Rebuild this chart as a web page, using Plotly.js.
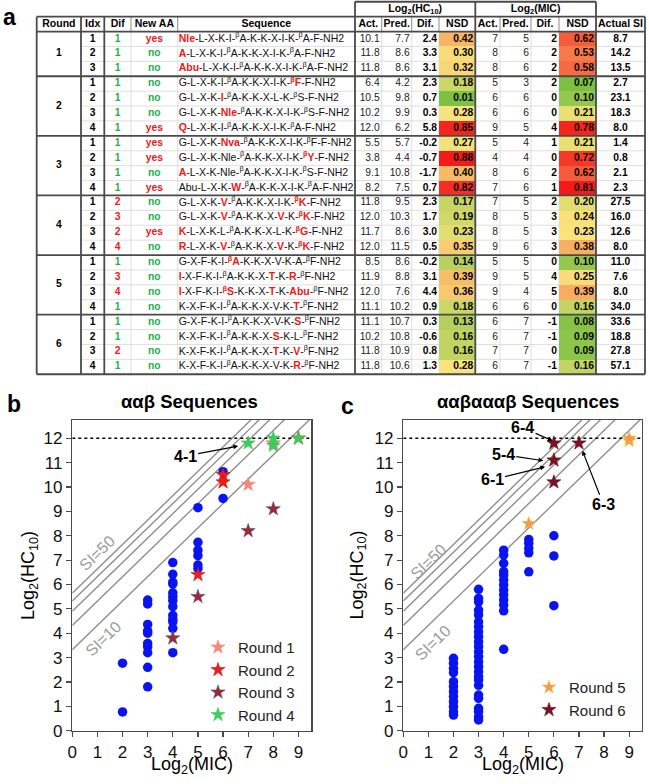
<!DOCTYPE html>
<html><head><meta charset="utf-8">
<script src="https://cdn.plot.ly/plotly-3.0.1.min.js"></script>
<style>html,body{margin:0;padding:0;background:#fff}#chart{width:649px;height:784px}</style>
</head><body><div id="chart"></div>
<script>
// ---------------- table data ----------------
const rounds   = [1,1,1, 2,2,2,2, 3,3,3,3, 4,4,4,4, 5,5,5,5, 6,6,6,6];
const idx      = [1,2,3, 1,2,3,4, 1,2,3,4, 1,2,3,4, 1,2,3,4, 1,2,3,4];
const difCount = [1,1,1, 1,1,1,1, 1,1,1,1, 2,3,2,4, 1,3,4,1, 1,1,2,1];
const newAA    = ['yes','no','no', 'no','no','no','yes', 'yes','yes','no','yes', 'no','no','yes','no', 'no','no','no','no', 'no','no','no','no'];
// [..] = new residue (red, bold), ^ = beta superscript
const sequences = [
  '[Nle]-L-X-K-I-^A-K-K-X-I-K-^A-F-NH2',
  '[A]-L-X-K-I-^A-K-K-X-I-K-^A-F-NH2',
  '[Abu]-L-X-K-I-^A-K-K-X-I-K-^A-F-NH2',
  'G-L-X-K-I-^A-K-K-X-I-K-[^F]-F-NH2',
  'G-L-X-K-[I]-^A-K-K-X-L-K-^S-F-NH2',
  'G-L-X-K-[Nle]-^A-K-K-X-I-K-^S-F-NH2',
  '[Q]-L-X-K-I-^A-K-K-X-I-K-^A-F-NH2',
  'G-L-X-K-[Nva]-^A-K-K-X-I-K-^F-F-NH2',
  'G-L-X-K-Nle-^A-K-K-X-I-K-[^Y]-F-NH2',
  '[A]-L-X-K-Nle-^A-K-K-X-I-K-^S-F-NH2',
  'Abu-L-X-K-[W]-^A-K-K-X-I-K-^A-F-NH2',
  'G-L-X-K-[V]-^A-K-K-X-I-K-[^K]-F-NH2',
  'G-L-X-K-[V]-^A-K-K-X-[V]-K-[^K]-F-NH2',
  '[K]-L-X-K-L-^A-K-K-X-L-K-[^G]-F-NH2',
  '[R]-L-X-K-[V]-^A-K-K-X-[V]-K-[^K]-F-NH2',
  'G-X-F-K-I-[^A]-K-K-X-V-K-A-^F-NH2',
  '[I]-X-F-K-I-^A-K-K-X-[T]-K-[R]-^F-NH2',
  '[I]-X-F-K-I-[^S]-K-K-X-[T]-K-[Abu]-^F-NH2',
  'K-X-F-K-I-^A-K-K-X-V-K-[T]-^F-NH2',
  'G-X-F-K-I-^A-K-K-X-V-K-[S]-^F-NH2',
  'K-X-F-K-I-^A-K-K-X-[S]-K-L-^F-NH2',
  'K-X-F-K-I-^A-K-K-X-[T]-K-[V]-^F-NH2',
  'K-X-F-K-I-^A-K-K-X-V-K-[R]-^F-NH2'
];
const hcAct  = [10.1,11.8,11.8, 6.4,10.5,10.2,12.0, 5.5,3.8,9.1,8.2, 11.8,12.0,11.7,12.0, 8.5,11.9,12.0,11.1, 11.1,10.2,11.8,11.8];
const hcPred = [7.7,8.6,8.6, 4.2,9.8,9.9,6.2, 5.7,4.4,10.8,7.5, 9.5,10.3,8.6,11.5, 8.6,8.8,7.6,10.2, 10.7,10.8,10.9,10.6];
const hcDif  = [2.4,3.3,3.1, 2.3,0.7,0.3,5.8, -0.2,-0.7,-1.7,0.7, 2.3,1.7,3.0,0.5, -0.2,3.1,4.4,0.9, 0.3,-0.6,0.8,1.3];
const hcNSD  = [0.42,0.30,0.32, 0.18,0.01,0.28,0.85, 0.27,0.88,0.40,0.82, 0.17,0.19,0.23,0.35, 0.14,0.39,0.36,0.18, 0.13,0.16,0.16,0.28];
const micAct  = [7,8,8, 5,6,6,9, 5,4,8,7, 7,8,8,9, 5,9,9,6, 6,6,7,6];
const micPred = [5,6,6, 3,6,6,5, 4,4,6,6, 5,5,5,6, 5,5,4,6, 7,7,7,7];
const micDif  = [2,2,2, 2,0,0,4, 1,0,2,1, 2,3,3,3, 0,4,5,0, -1,-1,0,-1];
const micNSD  = [0.62,0.53,0.58, 0.07,0.10,0.21,0.78, 0.21,0.72,0.62,0.81, 0.20,0.24,0.23,0.38, 0.10,0.25,0.39,0.16, 0.08,0.09,0.09,0.16];
const actualSI = [8.7,14.2,13.5, 2.7,23.1,18.3,8.0, 1.4,0.8,2.1,2.3, 27.5,16.0,12.6,8.0, 11.0,7.6,8.0,34.0, 33.6,18.8,27.8,57.1];
const headerLabels = ['Round','Idx','Dif','New AA','Sequence','Act.','Pred.','Dif.','NSD','Act.','Pred.','Dif.','NSD','Actual SI'];

// ---------------- scatter data (training sequences) ----------------
const aabMic = [2,2, 3,3,3,3,3,3,3,3,3,3, 4,4,4,4,4,4,4,4,4,4,4,4,4, 5,5,5,5,5,5, 6,6];
const aabHc  = [2.77,0.77, 5.36,5.20,4.36,4.10,4.00,3.58,3.45,3.20,2.60,1.80,
                6.90,6.42,6.10,6.02,5.66,5.50,5.34,5.09,4.73,4.57,4.47,4.20,3.20,
                9.15,7.73,7.41,7.18,6.80,6.66, 10.63,9.53];
const aabaaabMic = [2,2,2,2,2,2,2,2,2,2,2,2,
                    3,3,3,3,3,3,3,3,3,3,3,3,3,3,3,3,3,3,3,3,3,3,3,3,3,
                    4,4,4,4,4,4,4,4,4,4,4,4,4,
                    5,5,5,5,5, 6,6,6];
const aabaaabHc  = [2.97,2.77,2.56,2.38,2.01,1.81,1.60,1.40,1.19,0.99,0.78,0.64,
                    5.80,5.43,5.29,4.95,4.75,4.47,4.27,4.06,3.86,3.65,3.45,3.24,3.04,2.83,2.63,2.42,2.22,2.08,1.86,1.46,1.33,0.92,0.78,0.57,0.44,
                    7.41,7.21,6.87,6.53,6.39,6.18,5.98,5.77,5.57,5.36,5.16,4.92,3.34,
                    7.85,7.69,7.48,7.30,6.52, 8.00,7.17,5.13];
const siLevels = [10,20,30,40,50];
const hcCap = 12;
const xTicks = [0,1,2,3,4,5,6,7,8,9];
const yTicks = [0,1,2,3,4,5,6,7,8,9,10,11,12];

// ---------------- styling ----------------
const FONT = 'Arial, "Liberation Sans", Helvetica, sans-serif';
const RED = '#EE1818', GREEN = '#22B14C';
const roundColors = {1:'#F8877A', 2:'#EE1C1C', 3:'#A0282E', 4:'#3DCB5C', 5:'#F79450', 6:'#7D1227'};
const roundLines  = {1:'#F8877A', 2:'#C81010', 3:'#4A4A8A', 4:'#3DCB5C', 5:'#EED040', 6:'#5A0A18'};

const W = 649, H = 784;
const colBounds = [36.7, 81, 104.3, 131, 177.7, 355, 381.7, 411.7, 439, 475.3, 500, 531, 559, 596, 645];
const thickCols = [0,1,2,5,9,13,14];
const ctr = i => (colBounds[i]+colBounds[i+1])/2;
const rgt = i => colBounds[i+1]-2;
const rowPx0 = 39, rowPx = 14.9, tableBottomPx = 380;

const traces = [];
const shapes = [];
const annotations = [];

// ---------------- table ----------------
const nRows = rounds.length;
const rowIdx = rounds.map((_, i) => i);
function fmtSeq(s) {
  return s.replace(/\[([^\]]+)\]/g, '<span style="color:' + RED + '"><b>$1</b></span>')
          .replace(/\^/g, '<sup>β</sup>');
}
function textCol(x, texts, pos, opts) {
  opts = opts || {};
  return {type:'scatter', mode:'text', xaxis:'x3', yaxis:'y3',
    x: texts.map(() => x), y: opts.y || texts.map((_, i) => i),
    text: texts, textposition: pos, cliponaxis:false,
    textfont: {family: FONT, size: opts.size || 10.3, color: opts.color || '#000'},
    hoverinfo:'skip', showlegend:false};
}
function nsdHeat(vals, col) {
  const s = vals.slice().sort((a, b) => a - b);
  const mn = s[0], mx = s[s.length-1], med = s[Math.floor(s.length/2)];
  const f = (med - mn) / (mx - mn);
  return {type:'heatmap', xaxis:'x3', yaxis:'y3', z: vals.map(v => [v]),
    x0: ctr(col), dx: colBounds[col+1]-colBounds[col], y0: 0, dy: 1,
    zmin: mn, zmax: mx, showscale:false, hoverinfo:'skip',
    colorscale: [[0,'#7DC142'],[f,'#F8E37C'],[1,'#F41A1A']]};
}
traces.push(nsdHeat(hcNSD, 8));
traces.push(nsdHeat(micNSD, 12));

// round labels (merged cells)
const groups = [...new Set(rounds)];
const groupY = groups.map(g => { const r = rowIdx.filter(i => rounds[i] === g); return (r[0] + r[r.length-1]) / 2; });
traces.push(textCol(ctr(0), groups.map(g => '<b>' + g + '</b>'), 'middle center', {y: groupY}));
traces.push(textCol(ctr(1), idx.map(v => '<b>' + v + '</b>'), 'middle center'));
traces.push(textCol(ctr(2), difCount.map(v => '<b>' + v + '</b>'), 'middle center', {color: difCount.map(v => v === 1 ? GREEN : RED)}));
traces.push(textCol(ctr(3), newAA.map(v => '<b>' + v + '</b>'), 'middle center', {color: newAA.map(v => v === 'yes' ? RED : GREEN)}));
traces.push(textCol(colBounds[4] + 1, sequences.map(fmtSeq), 'middle right', {color:'#111', size:10.5}));
traces.push(textCol(rgt(5), hcAct.map(v => v.toFixed(1)), 'middle left', {color:'#222'}));
traces.push(textCol(rgt(6), hcPred.map(v => v.toFixed(1)), 'middle left', {color:'#222'}));
traces.push(textCol(rgt(7), hcDif.map(v => '<b>' + v.toFixed(1) + '</b>'), 'middle left'));
traces.push(textCol(rgt(8), hcNSD.map(v => '<b>' + v.toFixed(2) + '</b>'), 'middle left'));
traces.push(textCol(rgt(9), micAct.map(v => String(v)), 'middle left', {color:'#222'}));
traces.push(textCol(rgt(10), micPred.map(v => String(v)), 'middle left', {color:'#222'}));
traces.push(textCol(rgt(11), micDif.map(v => '<b>' + v + '</b>'), 'middle left'));
traces.push(textCol(rgt(12), micNSD.map(v => '<b>' + v.toFixed(2) + '</b>'), 'middle left'));
traces.push(textCol(ctr(13), actualSI.map(v => '<b>' + v.toFixed(1) + '</b>'), 'middle center'));
// headers
{
  const hx = headerLabels.map((_, i) => ctr(i));
  traces.push({type:'scatter', mode:'text', xaxis:'x3', yaxis:'y3', x: hx, y: hx.map(() => -1),
    text: headerLabels.map(t => '<b>' + t + '</b>'), textposition:'middle center', cliponaxis:false,
    textfont:{family:FONT, size:10.5, color:'#000'}, hoverinfo:'skip', showlegend:false});
  traces.push({type:'scatter', mode:'text', xaxis:'x3', yaxis:'y3',
    x: [(colBounds[5]+colBounds[9])/2, (colBounds[9]+colBounds[13])/2], y: [-2, -2],
    text: ['<b>Log<sub>2</sub>(HC<sub>10</sub>)</b>', '<b>Log<sub>2</sub>(MIC)</b>'],
    textposition:'middle center', cliponaxis:false,
    textfont:{family:FONT, size:10.5, color:'#000'}, hoverinfo:'skip', showlegend:false});
}
// table lines
const THICK = {width:1.8, color:'#4a4a4a'}, THIN = {width:0.8, color:'#d6d6d6'}, HDR = {width:1, color:'#8a8a8a'};
function hline(y, x0, x1, line, layer) { shapes.push({type:'line', xref:'x3', yref:'y3', x0:x0, x1:x1, y0:y, y1:y, line:line, layer:layer || 'above'}); }
function vline(x, y0, y1, line, layer) { shapes.push({type:'line', xref:'x3', yref:'y3', x0:x, x1:x, y0:y0, y1:y1, line:line, layer:layer || 'above'}); }
const xL = colBounds[0], xR = colBounds[colBounds.length-1];
for (let i = 0; i < nRows - 1; i++) {
  if (rounds[i] === rounds[i+1]) hline(i + 0.5, colBounds[1], xR, THIN, 'below');
}
colBounds.forEach((x, i) => {
  if (!thickCols.includes(i)) { vline(x, -0.5, nRows - 0.5, THIN, 'below'); vline(x, -1.5, -0.5, HDR); }
});
for (let i = 0; i < nRows - 1; i++) {
  if (rounds[i] !== rounds[i+1]) hline(i + 0.5, xL, xR, THICK);
}
hline(-2.5, colBounds[5], colBounds[13], THICK);
hline(-1.5, xL, xR, THICK);
hline(-0.5, xL, xR, THICK);
hline(nRows - 0.5, xL, xR, THICK);
thickCols.forEach(i => vline(colBounds[i], -1.5, nRows - 0.5, THICK));
[5, 9, 13].forEach(i => vline(colBounds[i], -2.5, -1.5, THICK));

// ---------------- scatter plots ----------------
function addPanel(xa, ya, mic, hc, roundList, legendId) {
  siLevels.forEach(si => {
    const b = Math.log2(si);
    traces.push({type:'scatter', mode:'lines', xaxis:xa, yaxis:ya, x:[0, 9.5], y:[b, 9.5 + b],
      line:{color:'#8e8e8e', width:1.4}, hoverinfo:'skip', showlegend:false});
  });
  traces.push({type:'scatter', mode:'lines', xaxis:xa, yaxis:ya, x:[0, 9.5], y:[hcCap, hcCap],
    line:{color:'#000', width:1.4, dash:'dot'}, hoverinfo:'skip', showlegend:false});
  traces.push({type:'scatter', mode:'markers', xaxis:xa, yaxis:ya, x: mic, y: hc,
    marker:{color:'#0A14F0', size:9.5, line:{width:0}}, hoverinfo:'skip', showlegend:false});
  roundList.forEach(r => {
    const sel = rowIdx.filter(i => rounds[i] === r);
    traces.push({type:'scatter', mode:'markers', xaxis:xa, yaxis:ya, legend: legendId,
      name: 'Round ' + r, x: sel.map(i => micAct[i]), y: sel.map(i => hcAct[i]),
      marker:{symbol:'star', size:10.5, color: roundColors[r], line:{width:0.6, color: roundLines[r]}},
      hoverinfo:'skip'});
  });
}
addPanel('x', 'y', aabMic, aabHc, [1,2,3,4], 'legend');
addPanel('x2', 'y2', aabaaabMic, aabaaabHc, [5,6], 'legend2');

const px = v => v / W, py = v => 1 - v / H;
const axBase = {showline:true, mirror:true, linecolor:'#4a4a4a', linewidth:1.5, ticks:'outside', ticklen:5,
  tickwidth:1.2, tickcolor:'#4a4a4a', showgrid:false, zeroline:false, tickmode:'array',
  tickfont:{family:FONT, size:17, color:'#111'}, fixedrange:true};
const yDom = [py(730.7), py(420)];

// panel texts (paper coords, centred explicitly)
function paperText(x, y, text, font, extra) {
  annotations.push(Object.assign({xref:'paper', yref:'paper', x:px(x), y:py(y), xanchor:'center', yanchor:'middle',
    text:text, showarrow:false, font:Object.assign({family:FONT, color:'#000'}, font)}, extra || {}));
}
paperText(9, 17, '<b>a</b>', {size:23});
paperText(14, 404, '<b>b</b>', {size:23});
paperText(347, 406, '<b>c</b>', {size:23});
paperText(189, 401.5, '<b>ααβ Sequences</b>', {size:18.5});
paperText(527.5, 401.5, '<b>ααβαααβ Sequences</b>', {size:18.5});
[[29, 191.7], [357.5, 522.5]].forEach(([yt, xt]) => {
  paperText(yt, 575, 'Log<sub>2</sub>(HC<sub>10</sub>)', {size:18}, {textangle:-90});
  paperText(xt, 765, 'Log<sub>2</sub>(MIC)', {size:18});
});
// SI labels
[['x','y',0.97,7.28,1.24,3.79], ['x2','y2',1.0,6.95,1.2,3.6]].forEach(([xa, ya, x50, y50, x10, y10]) => {
  annotations.push({xref:xa, yref:ya, x:x50, y:y50, text:'SI=50', textangle:-44, showarrow:false, font:{size:16, family:FONT, color:'#9a9a9a'}});
  annotations.push({xref:xa, yref:ya, x:x10, y:y10, text:'SI=10', textangle:-44, showarrow:false, font:{size:16, family:FONT, color:'#9a9a9a'}});
});
// arrow labels
const arrowStyle = {showarrow:true, arrowhead:2, arrowsize:0.8, arrowwidth:1.2, arrowcolor:'#000', font:{size:16, family:FONT, color:'#000'}};
[
  ['x','y', 6.6, 11.68, '4-1', -53, 10],
  ['x2','y2', 5.95, 11.9, '6-4', -30, -13],
  ['x2','y2', 5.58, 11.08, '5-4', -40, -6],
  ['x2','y2', 5.65, 10.83, '6-1', -53, 13],
  ['x2','y2', 7.14, 11.49, '6-3', 21, 54]
].forEach(([xa, ya, x, y, t, axo, ayo]) => {
  annotations.push(Object.assign({xref:xa, yref:ya, x:x, y:y, text:'<b>' + t + '</b>', ax:axo, ay:ayo}, arrowStyle));
});

const layout = {
  width: W, height: H, margin:{l:0, r:0, t:0, b:0},
  paper_bgcolor:'#fff', plot_bgcolor:'rgba(0,0,0,0)',
  font:{family:FONT, color:'#000'},
  xaxis: Object.assign({}, axBase, {domain:[px(72.3), px(311)], range:[0, 9.5], anchor:'y', tickvals:xTicks}),
  yaxis: Object.assign({}, axBase, {domain:yDom, range:[0, 12.75], anchor:'x', tickvals:yTicks}),
  xaxis2: Object.assign({}, axBase, {domain:[px(403.3), px(641.7)], range:[0, 9.5], anchor:'y2', tickvals:xTicks}),
  yaxis2: Object.assign({}, axBase, {domain:yDom, range:[0, 12.75], anchor:'x2', tickvals:yTicks}),
  xaxis3: {domain:[0, 1], range:[0, W], visible:false, anchor:'y3', fixedrange:true},
  yaxis3: {domain:[py(tableBottomPx), 1], range:[(tableBottomPx - rowPx0) / rowPx, -rowPx0 / rowPx], visible:false, anchor:'x3', fixedrange:true},
  showlegend:true,
  legend: {x:px(198), xanchor:'left', y:py(631), yanchor:'top', bgcolor:'rgba(0,0,0,0)', font:{size:15, family:FONT, color:'#222'}, tracegroupgap:0},
  legend2: {x:px(529), xanchor:'left', y:py(671), yanchor:'top', bgcolor:'rgba(0,0,0,0)', font:{size:15, family:FONT, color:'#222'}, tracegroupgap:0},
  shapes: shapes, annotations: annotations
};
Plotly.newPlot('chart', traces, layout, {staticPlot:true, displayModeBar:false});
</script></body></html>
